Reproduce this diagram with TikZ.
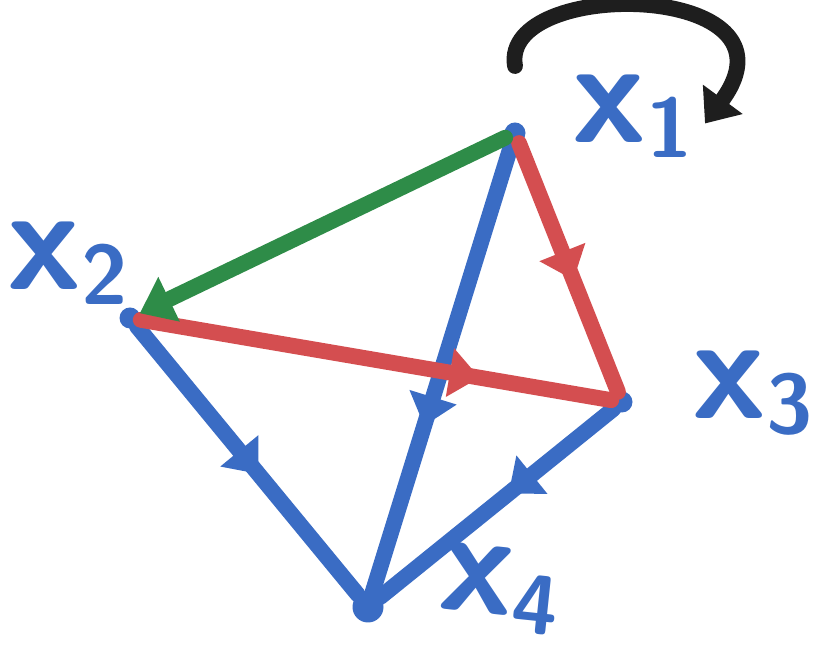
\documentclass[tikz,border=0pt]{standalone}
\usepackage{tikz}
\usetikzlibrary{arrows.meta,decorations.markings}

\definecolor{hblue}{RGB}{58,108,196}
\definecolor{hred}{RGB}{212,78,80}
\definecolor{hgreen}{RGB}{46,140,72}
\definecolor{hblack}{RGB}{30,30,30}

\newcommand{\xlab}[1]{{\sffamily\bfseries\fontsize{84}{84}\selectfont x}\raisebox{-0.3cm}{\sffamily\bfseries\fontsize{48}{48}\selectfont #1}}

\tikzset{
  vertex/.style={circle, fill=hblue, inner sep=0pt, minimum size=0.42cm},
  bigvertex/.style={vertex, minimum size=0.62cm},
  lbl/.style={text=hblue, inner sep=0pt},
  edge/.style={line width=9pt, line cap=round, line join=round},
  midarrow/.style={postaction={decorate}, decoration={markings,
      mark=at position #1 with {\arrow{Triangle[width=0.95cm, length=0.6cm]}}}}
}

\begin{document}
\begin{tikzpicture}
\useasboundingbox (0,0) rectangle (16.7,13.22);

% vertices
\node[vertex] (x1) at (10.3,10.56) {};
\node[vertex] (x2) at (2.6,6.86) {};
\node[vertex] (x3) at (12.44,5.18) {};
\node[bigvertex] (x4) at (7.36,1.08) {};

% labels
\node[lbl] (lx1) at (12.65,10.9) {\xlab{1}};
\node[lbl] (lx2) at (1.35,7.95) {\xlab{2}};
\node[lbl] (lx3) at (15.05,5.35) {\xlab{3}};
\node[lbl, rotate=-6] (lx4) at (10.0,1.45) {\xlab{4}};

% blue edges into x4
\draw[edge, hblue, midarrow=0.55] (x2) -- (x4);
\draw[edge, hblue, midarrow=0.63] (x1) -- (x4);
\draw[edge, hblue, midarrow=0.45] (x3) -- (x4);

% red edges into x3
\draw[edge, hred, midarrow=0.72] (x2) -- (x3);
\draw[edge, hred, midarrow=0.55] (x1) -- (x3);

% green edge
\draw[edge, hgreen, -{Triangle[width=0.95cm, length=0.65cm]}] (x1) -- (x2);

% self loop at x1
\coordinate (loopA) at (10.3,11.9);
\coordinate (loopB) at (14.1,10.75);
\draw[edge, hblack, -{Triangle[width=0.95cm, length=0.6cm]}]
    (loopA) .. controls (10.0,13.7) and (16.2,13.6) .. (loopB);
\end{tikzpicture}
\end{document}
